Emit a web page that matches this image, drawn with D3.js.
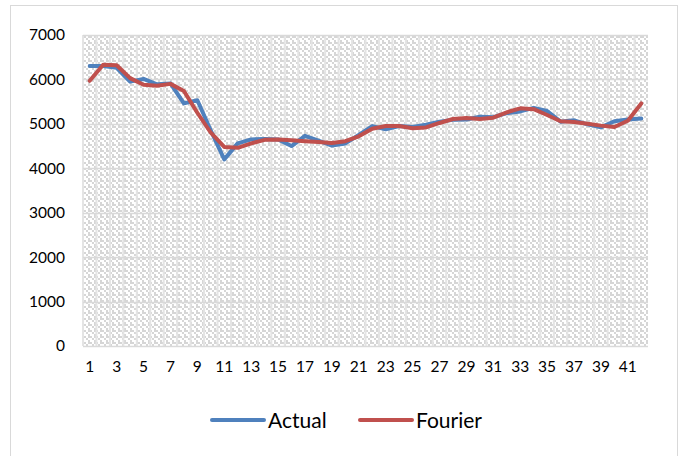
<!DOCTYPE html>
<html>
<head>
<meta charset="utf-8">
<script src="https://cdn.jsdelivr.net/npm/d3@7"></script>
<style>
  html, body { margin: 0; padding: 0; background: #fff; }
  svg { display: block; }
</style>
</head>
<body>
<svg id="chart" width="683" height="456"></svg>
<script>
// Period index 1..42
const categories = d3.range(1, 43);
const tickLabels = d3.range(1, 42, 2);
const yTicks = [0, 1000, 2000, 3000, 4000, 5000, 6000, 7000];

const actual = [6300, 6300, 6260, 5950, 6010, 5890, 5910, 5460, 5530, 4850,
                4200, 4560, 4650, 4660, 4650, 4500, 4730, 4620, 4510, 4560,
                4750, 4950, 4880, 4950, 4930, 4980, 5050, 5090, 5100, 5160,
                5150, 5240, 5280, 5360, 5290, 5050, 5080, 4990, 4920, 5060,
                5100, 5120];
const fourier = [5970, 6330, 6320, 6030, 5880, 5860, 5900, 5740, 5250, 4800,
                 4480, 4460, 4560, 4640, 4650, 4630, 4610, 4590, 4570, 4610,
                 4720, 4890, 4950, 4950, 4900, 4920, 5020, 5110, 5130, 5110,
                 5140, 5260, 5350, 5330, 5200, 5060, 5040, 5000, 4960, 4930,
                 5070, 5460];

const seriesNames = ["Actual", "Fourier"];
const seriesColors = ["#4F81BD", "#C0504D"];

const svg = d3.select("#chart");
const font = "Lato, 'Open Sans', sans-serif";

// Chart frame
svg.append("rect").attr("x", 10.5).attr("y", 5.5).attr("width", 667).attr("height", 460)
  .attr("fill", "#fff").attr("stroke", "#d9d9d9").attr("stroke-width", 1);

const plot = { left: 83, right: 648, top: 35, bottom: 346 };

const x = d3.scaleBand().domain(categories).range([plot.left, plot.right]);
const y = d3.scaleLinear().domain([0, 7000]).range([plot.bottom, plot.top]);

// Light dotted pattern fill of the plot area
const defs = svg.append("defs");
const pat = defs.append("pattern").attr("id", "dots")
  .attr("patternUnits", "userSpaceOnUse").attr("width", 6).attr("height", 6);
pat.append("rect").attr("width", 6).attr("height", 6).attr("fill", "#fff");
[[0,0],[2,2],[4,4],[4,0]].forEach(([px, py]) => {
  pat.append("rect").attr("x", px).attr("y", py).attr("width", 2).attr("height", 2)
    .attr("fill", "#d6d6d6");
});

svg.append("rect").attr("x", plot.left).attr("y", plot.top)
  .attr("width", plot.right - plot.left).attr("height", plot.bottom - plot.top)
  .attr("fill", "url(#dots)").attr("shape-rendering", "crispEdges");

// Vertical light stripes at category boundaries
svg.append("g").selectAll("line").data(categories).join("line")
  .attr("x1", d => x(d)).attr("x2", d => x(d))
  .attr("y1", plot.top).attr("y2", plot.bottom)
  .attr("stroke", "#e4e4e4").attr("stroke-width", 2);

// Horizontal gridlines
svg.append("g").selectAll("line").data(yTicks).join("line")
  .attr("x1", plot.left).attr("x2", plot.right)
  .attr("y1", d => Math.round(y(d)) + 0.5).attr("y2", d => Math.round(y(d)) + 0.5)
  .attr("stroke", "#d9d9d9").attr("stroke-width", 1.5);

// Y axis labels
const yAxis = d3.axisLeft(y).tickValues(yTicks).tickFormat(d3.format("d"))
  .tickSize(0).tickPadding(0);
const gy = svg.append("g").attr("transform", `translate(65,0)`).call(yAxis);
gy.select(".domain").remove();
gy.selectAll("text").attr("font-family", font).attr("font-size", 15.5).attr("fill", "#000");

// X axis labels
const xAxis = d3.axisBottom(x).tickValues(tickLabels).tickSize(0).tickPadding(0);
const gx = svg.append("g").attr("transform", `translate(0,${plot.bottom + 15})`).call(xAxis);
gx.select(".domain").remove();
gx.selectAll("text").attr("font-family", font).attr("font-size", 15.5).attr("fill", "#000");

// Series lines
const line = d3.line()
  .x((d, i) => x(categories[i]) + x.bandwidth() / 2)
  .y(d => y(d));

[actual, fourier].forEach((vals, k) => {
  svg.append("path").datum(vals)
    .attr("d", line)
    .attr("fill", "none")
    .attr("stroke", seriesColors[k])
    .attr("stroke-width", 4)
    .attr("stroke-linejoin", "round")
    .attr("stroke-linecap", "round");
});

// Legend
const legendItems = [{ x: 212 }, { x: 360 }];
legendItems.forEach((it, k) => {
  const g = svg.append("g").attr("transform", `translate(${it.x},420)`);
  g.append("line").attr("x1", 0).attr("x2", 52).attr("y1", 0).attr("y2", 0)
    .attr("stroke", seriesColors[k]).attr("stroke-width", 4).attr("stroke-linecap", "round");
  g.append("text").attr("x", 56).attr("y", 7.5)
    .attr("font-family", font).attr("font-size", 21).attr("fill", "#000")
    .text(seriesNames[k]);
});
</script>
</body>
</html>
